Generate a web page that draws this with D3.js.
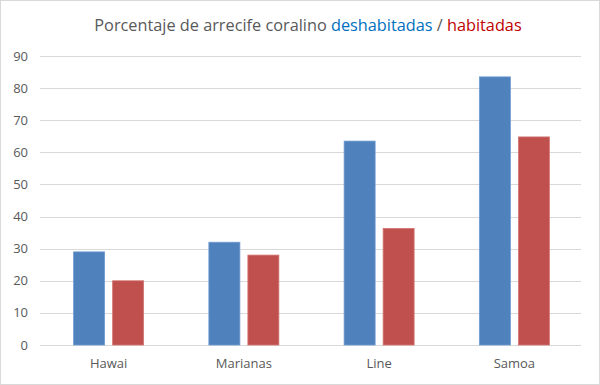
<!DOCTYPE html>
<html>
<head>
<meta charset="utf-8">
<script src="https://cdn.jsdelivr.net/npm/d3@7"></script>
<style>
  body { margin: 0; background: #fff; }
  svg text { font-family: "Open Sans", "Liberation Sans", sans-serif; }
</style>
</head>
<body>
<div id="chart"></div>
<script>
// data
var islands = ["Hawai", "Marianas", "Line", "Samoa"];
var deshabitadas = [29, 32, 63.5, 83.5];
var habitadas = [20, 28, 36.3, 64.8];
var yTicks = [0, 10, 20, 30, 40, 50, 60, 70, 80, 90];

var width = 600, height = 385;
var margin = {top: 56, right: 19, bottom: 40, left: 40};

var svg = d3.select("#chart").append("svg")
    .attr("width", width)
    .attr("height", height);

// outer frame
svg.append("rect")
    .attr("x", 0.5).attr("y", 0.5)
    .attr("width", width - 1).attr("height", height - 1)
    .attr("fill", "#fff")
    .attr("stroke", "#d9d9d9");

var x = d3.scaleBand()
    .domain(islands)
    .range([margin.left + 1, width - margin.right + 1]);

var y = d3.scaleLinear()
    .domain([0, 90])
    .range([height - margin.bottom, margin.top]);

// gridlines
svg.append("g").selectAll("line")
    .data(yTicks)
    .enter().append("line")
    .attr("x1", margin.left)
    .attr("x2", width - margin.right)
    .attr("y1", function(d) { return Math.round(y(d)) + 0.5; })
    .attr("y2", function(d) { return Math.round(y(d)) + 0.5; })
    .attr("stroke", "#d9d9d9")
    .attr("stroke-width", 1);

// y labels
svg.append("g").selectAll("text")
    .data(yTicks)
    .enter().append("text")
    .attr("x", 28)
    .attr("y", function(d) { return y(d); })
    .attr("dy", "0.35em")
    .attr("text-anchor", "end")
    .attr("font-size", 13)
    .attr("fill", "#595959")
    .text(function(d) { return d; });

var barW = 31, gap = 8;
var series = [
    {values: deshabitadas, fill: "#4f81bd", stroke: "#6f9bd1", offset: -(barW + gap / 2)},
    {values: habitadas, fill: "#c0504d", stroke: "#d27673", offset: gap / 2}
];

series.forEach(function(s) {
    svg.append("g").selectAll("rect")
        .data(islands)
        .enter().append("rect")
        .attr("x", function(d) { return x(d) + x.bandwidth() / 2 + s.offset; })
        .attr("y", function(d, i) { return y(s.values[i]); })
        .attr("width", barW)
        .attr("height", function(d, i) { return y(0) - y(s.values[i]); })
        .attr("fill", s.fill)
        .attr("stroke", s.stroke)
        .attr("stroke-width", 0.8);
});

// x labels
svg.append("g").selectAll("text")
    .data(islands)
    .enter().append("text")
    .attr("x", function(d) { return x(d) + x.bandwidth() / 2; })
    .attr("y", 368)
    .attr("text-anchor", "middle")
    .attr("font-size", 13)
    .attr("fill", "#595959")
    .text(function(d) { return d; });

// title
var title = svg.append("text")
    .attr("x", 308)
    .attr("y", 31)
    .attr("text-anchor", "middle")
    .attr("font-size", 16.3)
    .attr("fill", "#595959");
title.append("tspan").text("Porcentaje de arrecife coralino ");
title.append("tspan").attr("fill", "#0070c0").text("deshabitadas");
title.append("tspan").text(" / ");
title.append("tspan").attr("fill", "#c00000").text("habitadas");
</script>
</body>
</html>
